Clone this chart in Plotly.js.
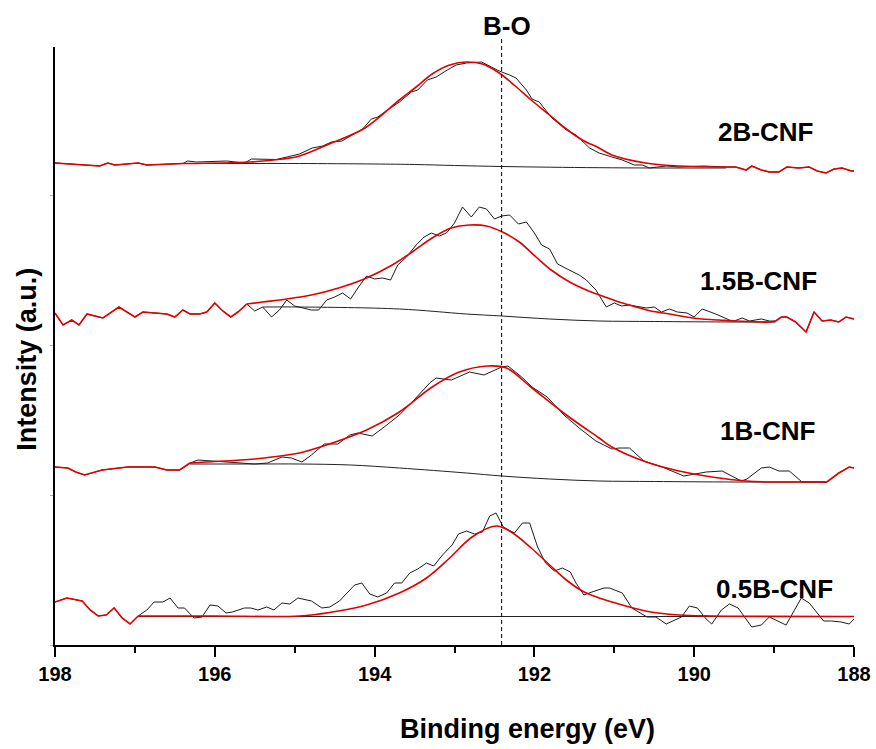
<!DOCTYPE html>
<html>
<head>
<meta charset="utf-8">
<script src="https://cdn.plot.ly/plotly-3.0.1.min.js"></script>
<style>html,body{margin:0;padding:0;background:#fff;}#chart{width:876px;height:749px;}</style>
</head>
<body>
<div id="chart"></div>
<script>
// ---------- DATA (binding energy in eV, intensity in a.u., spectra stacked) ----------
const sampleNames = ["2B-CNF", "1.5B-CNF", "1B-CNF", "0.5B-CNF"];
const boPosition = 192.41;

// 2B-CNF
const e2B_raw = [198.00,197.44,197.34,197.25,196.96,196.85,196.40,196.34,196.23,195.85,195.63,195.54,195.23,195.06,194.94,194.78,194.65,194.54,194.41,194.28,194.15,194.04,193.96,193.84,193.69,193.54,193.46,193.34,193.23,193.09,192.98,192.85,192.66,192.54,192.44,192.31,192.23,192.10,192.03,191.94,191.78,191.60,191.48,191.31,191.19,191.03,190.90,190.75,190.65,190.56,190.35,190.19,189.88,189.60,189.48,189.35,189.28,189.16,189.06,188.94,188.84,188.69,188.56,188.46,188.35,188.25,188.15,188.03,188.00];
const i2B_raw = [482,479,482,480,482,480,481.5,484,483,484,482,486,485.5,489,491,497,499,503,504,510,516,526,528,535,543,553,555,565,568,575,580,582,583,578,574,570,567,555,546,543,527,515,510,497,492,488,485,480,480,477,479,478,479,478,478,475,479,475,473,473,478,477,478,474,472,476,477,474,474];
const e2B_fit = [196.40,195.56,195.15,194.94,194.54,194.12,193.69,193.48,193.28,193.06,192.85,192.65,192.44,192.24,192.04,191.81,191.60,191.40,191.19,191.03,190.61,190.19,189.78,189.60];
const i2B_fit = [481.5,483,486,489,502,517,545,558,571,580,583,581,572,559,545,530,516,505,497,490,482,479,478,478];
const e2B_bg = [196.40,195.50,194.94,194.00,193.50,193.00,192.41,191.80,191.19,190.50,189.60];
const i2B_bg = [481.5,481.5,481.5,481,480.5,479.5,478.5,477.8,477.3,477,477];

// 1.5B-CNF
const e15B_raw = [198.00,197.90,197.79,197.70,197.60,197.40,197.20,197.00,196.90,196.60,196.50,196.40,196.31,196.19,196.10,196.00,195.90,195.80,195.71,195.60,195.50,195.40,195.29,195.19,195.10,195.00,194.79,194.70,194.60,194.50,194.40,194.30,194.21,194.10,194.00,193.90,193.80,193.71,193.60,193.48,193.38,193.29,193.19,193.10,193.00,192.90,192.79,192.69,192.60,192.50,192.41,192.31,192.20,192.10,192.00,191.91,191.81,191.71,191.59,191.44,191.35,191.23,191.10,191.00,190.91,190.81,190.60,190.50,190.41,190.31,190.21,190.09,190.00,189.90,189.73,189.56,189.50,189.40,189.31,189.16,189.06,188.98,188.91,188.84,188.73,188.60,188.50,188.40,188.29,188.19,188.10,188.00];
const i15B_raw = [332,320,325,320,331,327,338,328,333,331,328,335,331,331,333,342,334,328,333,341,334,338,328,335,345,339,335,335,345,348,352,346,357,369,366,367,365,380,388,400,408,412,409,412,422,438,428,438,436,426,429,430,421,423,412,400,396,381,376,370,365,355,338,342,339,340,337,338,333,336,333,332,328,336,331,325,324,327,324,326,324,324,328,328,323,313,333,324,325,323,328,326];
const e15B_fit = [195.60,195.40,195.10,194.79,194.45,194.10,193.78,193.53,193.28,193.04,192.81,192.60,192.40,192.19,191.98,191.79,191.56,191.35,191.15,190.94,190.73,190.54,190.31,190.10,189.90,189.69,189.48,189.06,188.98];
const i15B_fit = [341,343,346,350,357,367,380,393,407,417,420,419,413,403,388,375,363,355,349,343,338,334,331,328,326,325,324,323,324];
const e15B_bg = [195.40,194.94,193.69,192.85,192.41,191.81,191.19,190.50,189.50,188.98];
const i15B_bg = [338,338,336,331,329,326,324,323.5,323,323];

// 1B-CNF
const e1B_raw = [198.00,197.84,197.74,197.63,197.41,197.09,196.75,196.60,196.44,196.31,196.21,196.04,195.79,195.50,195.34,195.16,195.04,194.91,194.79,194.63,194.46,194.31,194.21,194.03,193.88,193.69,193.53,193.31,193.23,193.04,192.81,192.73,192.63,192.41,192.33,192.16,192.03,191.84,191.63,191.44,191.23,191.03,190.94,190.81,190.63,190.40,190.13,189.85,189.65,189.41,189.34,189.16,189.06,188.94,188.81,188.65,188.34,188.19,188.06,188.00];
const i1B_raw = [178,177,173,170,175,178,178,175,175,182,185,184,183,181,182,188,187,183,190,201,201,210,212,209,218,230,243,262,267,265,273,272,270,278,279,268,258,248,230,217,204,196,197,197,184,178,169,173,174,164,166,177,178,174,174,163,163,172,178,177];
const e1B_fit = [196.31,196.10,195.50,195.09,194.94,194.53,194.10,193.69,193.28,192.94,192.59,192.35,192.03,191.60,191.19,191.03,190.60,190.19,189.78,189.35,188.94,188.53,188.34];
const i1B_fit = [182,183,186,190,192,202,215,233,258,273,279,277,257,230,207,198,183,174,168,164,163,163,163];
const e1B_bg = [196.31,195.50,194.94,194.30,193.69,192.85,192.41,191.81,191.19,190.50,189.50,188.34];
const i1B_bg = [181,181,181,180,177,172,169,166,164,163.5,163,163];

// 0.5B-CNF
const e05B_raw = [198.00,197.85,197.66,197.56,197.46,197.36,197.26,197.16,197.06,196.96,196.85,196.76,196.65,196.56,196.46,196.38,196.26,196.16,196.06,195.96,195.86,195.78,195.63,195.55,195.46,195.35,195.26,195.16,195.06,194.96,194.79,194.66,194.56,194.44,194.25,194.16,194.06,193.96,193.85,193.75,193.66,193.56,193.46,193.35,193.26,193.15,193.03,192.95,192.85,192.75,192.65,192.56,192.48,192.39,192.25,192.15,192.06,191.96,191.86,191.75,191.65,191.55,191.48,191.38,191.28,191.13,191.06,190.90,190.78,190.59,190.48,190.35,190.16,190.06,189.96,189.85,189.78,189.66,189.56,189.45,189.28,189.16,189.06,188.85,188.66,188.56,188.38,188.28,188.16,188.06,188.00];
const i05B_raw = [43,47,44,35,29,30,37,27,21,29,35,43,43,47,37,37,27,28,40,39,32,33,37,37,35,38,35,42,41,47,44,37,38,44,60,62,51,48,52,62,62,72,76,82,79,90,100,111,114,111,113,129,132,118,112,122,122,98,82,74,77,73,62,50,53,57,57,52,37,28,28,21,28,39,37,26,21,35,41,37,18,20,28,20,47,42,24,24,23,21,26];
const e05B_fit = [196.96,196.00,194.94,194.53,194.10,193.69,193.35,193.06,192.78,192.48,192.29,192.04,191.81,191.60,191.40,191.19,191.03,190.61,190.19,189.78,188.00];
const i05B_fit = [29,29,29,33,40,52,67,87,108,119,113,97,80,65,54,47,43,34,30,29,28.5];
const e05B_bg = [196.96,188.00];
const i05B_bg = [28.5,28.5];

// x-axis ticks
const xTickVals = [198,196,194,192,190,188];
const xTickText = ["198","196","194","192","190","188"];

// ---------- TRACES ----------
const FONT = "Liberation Sans, Arial, Helvetica, sans-serif";
const rawStyle = {color:"#1c1c1c", width:1};
const bgStyle  = {color:"#222222", width:1, shape:"spline", smoothing:1};
const fitStyle = {color:"#e00000", width:1.6, shape:"spline", smoothing:1};
const edgeStyle = {color:"#e00000", width:1.6};

function line(x, y, style) {
  return {x:x, y:y, type:"scatter", mode:"lines", line:style, hoverinfo:"skip", showlegend:false};
}
// red cumulative curve outside the fitted window follows the raw data
function edges(ex, iy, fitE) {
  const hi = fitE[0], lo = fitE[fitE.length - 1];
  const lx = [], ly = [], rx = [], ry = [];
  ex.forEach((e, k) => {
    if (e >= hi) { lx.push(e); ly.push(iy[k]); }
    if (e <= lo) { rx.push(e); ry.push(iy[k]); }
  });
  return [line(lx, ly, edgeStyle), line(rx, ry, edgeStyle)];
}

const traces = [
  line(e2B_raw, i2B_raw, rawStyle), line(e2B_bg, i2B_bg, bgStyle), line(e2B_fit, i2B_fit, fitStyle),
  ...edges(e2B_raw, i2B_raw, e2B_fit),
  line(e15B_raw, i15B_raw, rawStyle), line(e15B_bg, i15B_bg, bgStyle), line(e15B_fit, i15B_fit, fitStyle),
  ...edges(e15B_raw, i15B_raw, e15B_fit),
  line(e1B_raw, i1B_raw, rawStyle), line(e1B_bg, i1B_bg, bgStyle), line(e1B_fit, i1B_fit, fitStyle),
  ...edges(e1B_raw, i1B_raw, e1B_fit),
  line(e05B_raw, i05B_raw, rawStyle), line(e05B_bg, i05B_bg, bgStyle), line(e05B_fit, i05B_fit, fitStyle),
  ...edges(e05B_raw, i05B_raw, e05B_fit)
];

function label(text, x, y, size, extra) {
  return Object.assign({text:text, xref:"paper", yref:"paper", x:x, y:y, xanchor:"center", yanchor:"middle",
    showarrow:false, font:{family:FONT, size:size, color:"#000", weight:"bold"}}, extra || {});
}

const layout = {
  width: 876, height: 749,
  margin: {l:55, r:22, t:47, b:104, pad:0},
  paper_bgcolor: "#ffffff", plot_bgcolor: "#ffffff",
  showlegend: false,
  hovermode: false,
  xaxis: {
    range: [198, 188], autorange: false,
    tickmode: "array", tickvals: xTickVals, ticktext: xTickText,
    ticks: "outside", ticklen: 10, tickwidth: 2, tickcolor: "#000",
    minor: {dtick: 1, tick0: 188, ticks: "outside", ticklen: 6, tickwidth: 2, tickcolor: "#000", showgrid: false},
    showline: true, linewidth: 2, linecolor: "#000",
    showgrid: false, zeroline: false,
    tickfont: {family: FONT, size: 20, color: "#000", weight: "bold"}
  },
  yaxis: {
    range: [0, 598], autorange: false,
    showticklabels: false,
    ticks: "outside", ticklen: 3, tickwidth: 1, tickcolor: "#b0b0b0", dtick: 150, tick0: 0,
    showline: true, linewidth: 2, linecolor: "#000",
    showgrid: false, zeroline: false
  },
  shapes: [
    {type:"line", xref:"x", yref:"paper", x0:boPosition, x1:boPosition, y0:0, y1:1.017,
     line:{color:"#000", width:1, dash:"4px,3px"}}
  ],
  annotations: [
    label("Binding energy (eV)", 0.591, -0.140, 27),
    label("Intensity (a.u.)", -0.035, 0.477, 27, {textangle:-90}),
    label("B-O", 0.566, 1.035, 26),
    label(sampleNames[0], 0.889, 0.858, 26),
    label(sampleNames[1], 0.880, 0.609, 26),
    label(sampleNames[2], 0.892, 0.358, 26),
    label(sampleNames[3], 0.901, 0.094, 26)
  ]
};

Plotly.newPlot("chart", traces, layout, {staticPlot:true, displayModeBar:false});
</script>
</body>
</html>
